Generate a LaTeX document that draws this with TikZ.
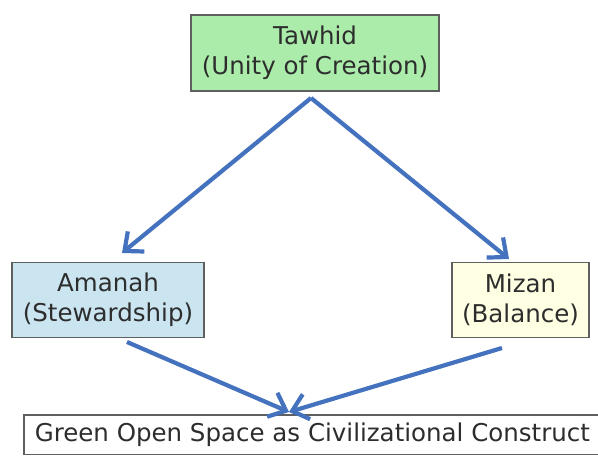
\documentclass[tikz,border=0pt]{standalone}
\usepackage{fontspec}
\setmainfont{DejaVu Sans}
\usetikzlibrary{arrows.meta}
\definecolor{boxgreen}{RGB}{172,236,170}
\definecolor{boxblue}{RGB}{202,228,240}
\definecolor{boxyellow}{RGB}{255,255,228}
\definecolor{edgegray}{RGB}{95,95,95}
\definecolor{txt}{RGB}{45,45,45}
\definecolor{arrowblue}{RGB}{68,114,190}
\tikzset{
  concept/.style={draw=edgegray, line width=1.6bp, align=center, text=txt,
    font=\fontsize{24.5bp}{30bp}\selectfont, inner xsep=10bp, inner ysep=8bp},
  link/.style={draw=arrowblue, line width=4.2bp,
    -{Straight Barb[length=15bp,width=26bp,line width=4.2bp]}}
}
\begin{document}
\begin{tikzpicture}[x=1bp,y=-1bp]
\useasboundingbox (0,0) rectangle (598,458);
\clip (0,0) rectangle (598,458);
\fill[white] (0,0) rectangle (598,458);
\node[concept, fill=boxgreen, minimum width=248bp, minimum height=76bp] (tawhid) at (315,53) {Tawhid\\(Unity of Creation)};
\node[concept, fill=boxblue, minimum width=192bp, minimum height=75bp] (amanah) at (108,300) {Amanah\\(Stewardship)};
\node[concept, fill=boxyellow, minimum width=135bp, minimum height=75bp] (mizan) at (520.5,300) {Mizan\\(Balance)};
\node[concept, fill=white, anchor=north west, inner xsep=11bp, inner ysep=8bp] (gos) at (23,414) {Green Open Space as Civilizational Construct};
\coordinate (tstart) at (311,98);
\coordinate (aend) at (122,253);
\coordinate (mend) at (509,259);
\coordinate (astart) at (127,342);
\coordinate (mstart) at (502,348);
\coordinate (gtarget) at (289,412);
\draw[link] (tstart) -- (aend);
\draw[link] (tstart) -- (mend);
\draw[link] (astart) -- (gtarget);
\draw[link] (mstart) -- (gtarget);
\end{tikzpicture}
\end{document}
